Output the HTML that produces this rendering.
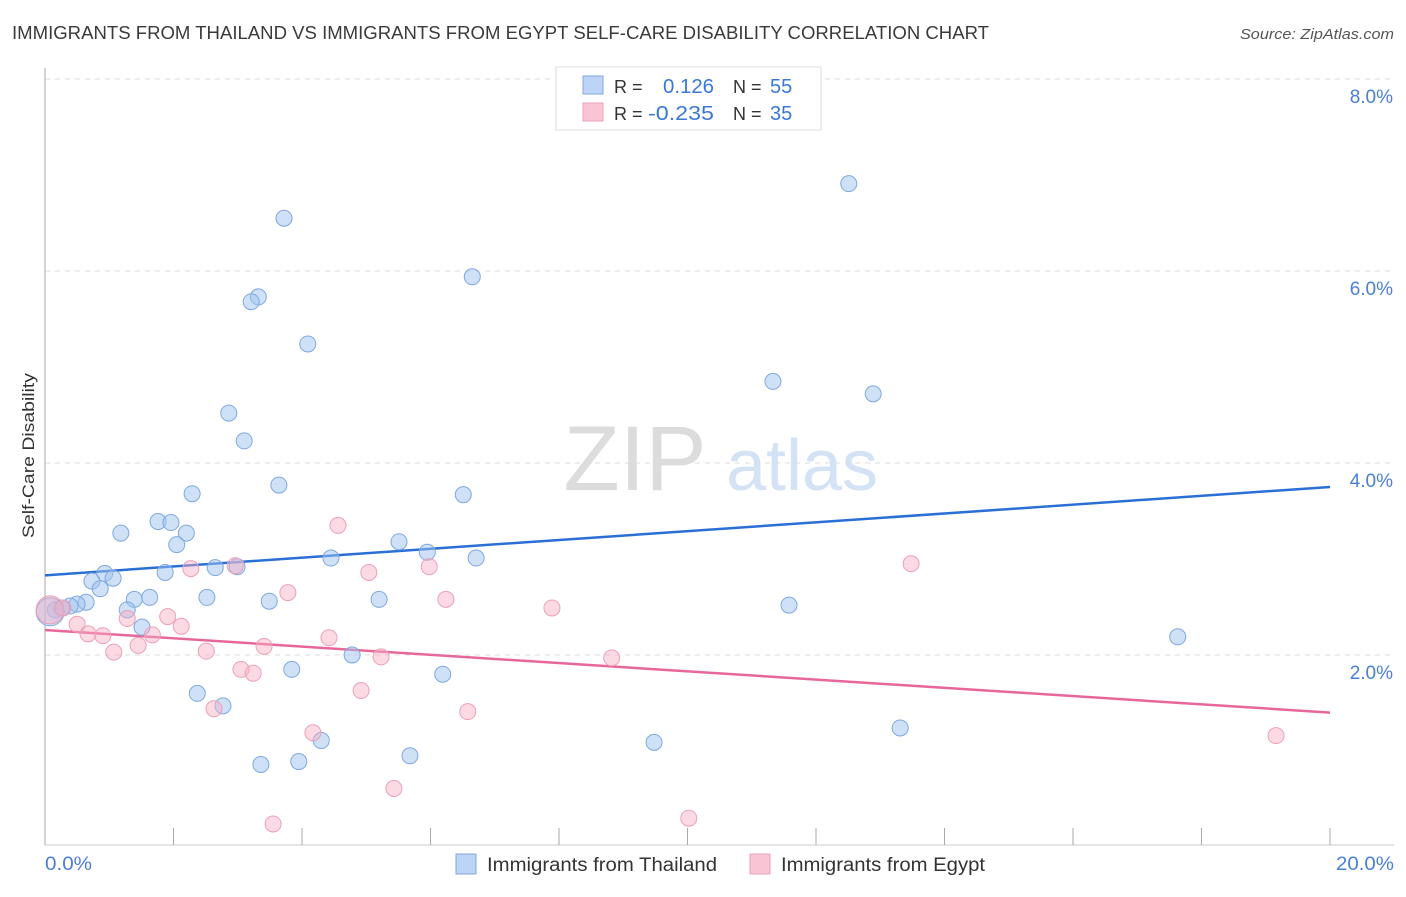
<!DOCTYPE html>
<html><head><meta charset="utf-8"><style>
body{margin:0;background:#fff;font-family:"Liberation Sans",sans-serif;}
svg text{font-family:"Liberation Sans",sans-serif;}
</style></head><body>
<svg id="c" width="1406" height="892">
<text x="12" y="39" font-size="18" fill="#3a3a3a" textLength="977" lengthAdjust="spacingAndGlyphs">IMMIGRANTS FROM THAILAND VS IMMIGRANTS FROM EGYPT SELF-CARE DISABILITY CORRELATION CHART</text>
<text x="1240" y="39" font-size="15" fill="#555" font-style="italic" textLength="154" lengthAdjust="spacingAndGlyphs">Source: ZipAtlas.com</text>
<g><text x="635" y="490" font-size="92" fill="#dcdcdc" text-anchor="middle" font-family="Liberation Serif">ZIP</text><text x="802" y="490" font-size="72" fill="#d4e2f5" text-anchor="middle">atlas</text></g>
<g id="grid"></g><g id="axes"></g><g id="lines"></g><g id="pts"></g>
<text transform="translate(34,538) rotate(-90)" font-size="17" fill="#333" textLength="165" lengthAdjust="spacingAndGlyphs">Self-Care Disability</text>
<text x="45" y="870" font-size="19" fill="#4a7fd8" textLength="47" lengthAdjust="spacingAndGlyphs">0.0%</text>
<text x="1336" y="870" font-size="19" fill="#4a7fd8" textLength="58" lengthAdjust="spacingAndGlyphs">20.0%</text>
<g>
<rect x="556" y="67" width="265" height="63" fill="#fff" stroke="#ddd"/>
<rect x="583" y="76" width="20" height="18" fill="#bcd4f5" stroke="#7fa8e0"/>
<rect x="583" y="103" width="20" height="18" fill="#f9c5d5" stroke="#eda0b8"/>
<text x="614" y="93" font-size="18" fill="#333">R =</text><text x="663" y="93" font-size="20" fill="#3a78d8" textLength="51" lengthAdjust="spacingAndGlyphs">0.126</text>
<text x="733" y="93" font-size="18" fill="#333">N =</text><text x="770" y="93" font-size="20" fill="#3a78d8">55</text>
<text x="614" y="120" font-size="18" fill="#333">R =</text><text x="648" y="120" font-size="20" fill="#3a78d8" textLength="66" lengthAdjust="spacingAndGlyphs">-0.235</text>
<text x="733" y="120" font-size="18" fill="#333">N =</text><text x="770" y="120" font-size="20" fill="#3a78d8">35</text>
</g>
<g>
<rect x="456" y="854" width="20" height="20" fill="#bcd4f5" stroke="#7fa8e0"/>
<text x="487" y="871" font-size="19" fill="#333" textLength="230" lengthAdjust="spacingAndGlyphs">Immigrants from Thailand</text>
<rect x="750" y="854" width="20" height="20" fill="#f9c5d5" stroke="#eda0b8"/>
<text x="781" y="871" font-size="19" fill="#333" textLength="204" lengthAdjust="spacingAndGlyphs">Immigrants from Egypt</text>
</g>
</svg>
<script>
const yTicks=[2,4,6,8];
const yTickLabels=["2.0%","4.0%","6.0%","8.0%"];
const xTicks=[0,2,4,6,8,10,12,14,16,18,20];
const thaiX=[3.72,12.51,6.65,3.32,3.21,4.09,11.33,12.89,2.86,3.10,2.29,3.64,6.51,1.18,1.76,1.96,2.20,2.05,5.51,5.95,6.71,4.45,0.93,1.06,0.73,0.86,1.87,2.65,2.99,1.63,1.39,2.52,3.49,5.20,0.64,0.50,0.39,0.26,0.16,1.28,1.51,11.58,17.63,4.78,3.84,6.19,2.37,2.77,13.31,4.30,9.48,5.68,3.36,3.95,0.08];
const thaiY=[6.55,6.91,5.94,5.73,5.68,5.24,4.85,4.72,4.52,4.23,3.68,3.77,3.67,3.27,3.39,3.38,3.27,3.15,3.18,3.07,3.01,3.01,2.85,2.80,2.77,2.69,2.86,2.91,2.92,2.60,2.58,2.60,2.56,2.58,2.55,2.53,2.51,2.49,2.47,2.47,2.29,2.52,2.19,2.00,1.85,1.80,1.60,1.47,1.24,1.11,1.09,0.95,0.86,0.89,2.45];
const egX=[4.56,2.96,2.27,5.04,5.98,3.78,6.24,7.89,13.48,1.28,1.91,2.12,0.50,0.67,0.90,1.67,1.45,1.07,2.51,3.41,4.42,5.23,3.05,3.24,8.82,4.92,2.63,6.58,4.17,5.43,3.55,10.02,19.16,0.08,0.28];
const egY=[3.35,2.93,2.90,2.86,2.92,2.65,2.58,2.49,2.95,2.38,2.40,2.30,2.32,2.22,2.20,2.21,2.10,2.03,2.04,2.09,2.18,1.98,1.85,1.81,1.97,1.63,1.44,1.41,1.19,0.61,0.24,0.30,1.16,2.47,2.49];
const thaiTrend=[2.83,3.75];
const egTrend=[2.26,1.40];
const NS="http://www.w3.org/2000/svg";
const X=v=>45+v/20*1285, Y=v=>847-v/2*192;
function mk(t,a,p){const e=document.createElementNS(NS,t);for(const k in a)e.setAttribute(k,a[k]);document.getElementById(p).appendChild(e);return e;}
yTicks.forEach((t,i)=>{
 const l=mk('line',{x1:45,x2:1394,y1:Y(t),y2:Y(t),stroke:'#ddd','stroke-dasharray':'5,5'},'grid');
 
 
 const tx=mk('text',{x:1393,y:Y(t)+24,'font-size':19,fill:'#4a7fd8','text-anchor':'end'},'grid');tx.textContent=yTickLabels[i];
 
 
});
mk('line',{x1:45,x2:45,y1:68,y2:845,stroke:'#aaa'},'axes');
mk('line',{x1:45,x2:1394,y1:845,y2:845,stroke:'#ccc'},'axes');
xTicks.forEach(t=>{const l=mk('line',{x1:X(t),x2:X(t),y1:828,y2:845,stroke:'#aaa'},'axes');
 
 });
const bl=mk('line',{x1:X(0),x2:X(20),y1:Y(thaiTrend[0]),y2:Y(thaiTrend[1]),stroke:'#2a6fd6','stroke-width':2.5},'lines');


const pl=mk('line',{x1:X(0),x2:X(20),y1:Y(egTrend[0]),y2:Y(egTrend[1]),stroke:'#e8679a','stroke-width':2.5},'lines');


function dots(xs,ys,fill,stroke,name){xs.forEach((v,i)=>{const big=(v<0.1);
 const c=mk('circle',{cx:X(v),cy:Y(ys[i]),r:big?14:8,fill:fill,stroke:stroke,'stroke-width':1},'pts');
 
 });}
dots(thaiX,thaiY,'rgba(160,196,240,0.5)','#7fa8e0','thailand-point');
dots(egX,egY,'rgba(246,172,196,0.45)','#eda0b8','egypt-point');
</script>
</body></html>
